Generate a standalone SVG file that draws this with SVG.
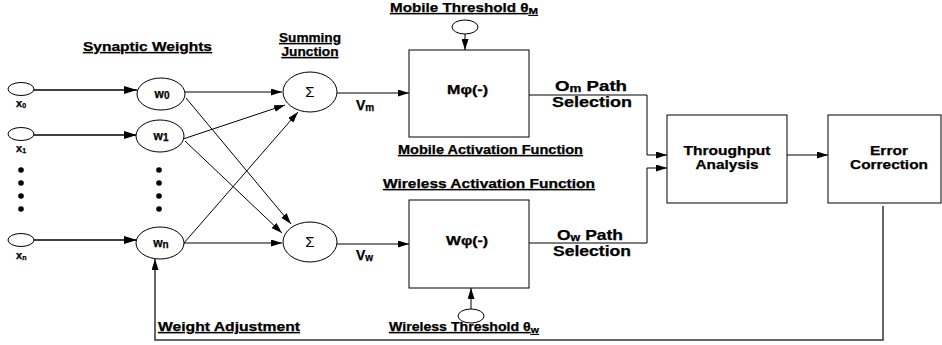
<svg xmlns="http://www.w3.org/2000/svg" width="942" height="345" viewBox="0 0 942 345">
<defs>
<style>
.n{fill:#fff;stroke:#000;stroke-width:1}
.c{fill:none;stroke:#000;stroke-width:1}
.ci{fill:none;stroke:#000;stroke-width:1.6}
.t{font-family:"Liberation Sans",Arial,sans-serif;font-weight:bold;fill:#000;stroke:#000;stroke-width:0.25}
.u{text-decoration:underline}
.s{font-family:"Liberation Sans",Arial,sans-serif;font-size:15px;fill:#000}
</style>
<marker id="ah" markerWidth="11" markerHeight="7" refX="11" refY="3.5" orient="auto" markerUnits="userSpaceOnUse"><path d="M0,0 L11,3.5 L0,7 z" fill="#000"/></marker>
<marker id="ahb" markerWidth="13" markerHeight="8" refX="13" refY="4" orient="auto" markerUnits="userSpaceOnUse"><path d="M0,0 L13,4 L0,8 z" fill="#000"/></marker>
</defs>
<rect width="942" height="345" fill="#fff"/>

<g id="connectors">
<line class="ci" x1="34" y1="90" x2="137" y2="90" marker-end="url(#ahb)"/>
<line class="ci" x1="34" y1="135" x2="137" y2="135" marker-end="url(#ahb)"/>
<line class="ci" x1="34" y1="240" x2="137" y2="240" marker-end="url(#ahb)"/>
<line class="c" x1="185" y1="92" x2="282" y2="92" marker-end="url(#ah)"/>
<line class="c" x1="186" y1="98" x2="291" y2="224" marker-end="url(#ah)"/>
<line class="c" x1="183" y1="139" x2="285" y2="105" marker-end="url(#ah)"/>
<line class="c" x1="185" y1="141" x2="282" y2="233" marker-end="url(#ah)"/>
<line class="c" x1="184" y1="243" x2="298" y2="112" marker-end="url(#ah)"/>
<line class="c" x1="184" y1="243" x2="282" y2="243" marker-end="url(#ah)"/>
<line class="c" x1="337" y1="93" x2="409" y2="93" marker-end="url(#ah)"/>
<line class="c" x1="337" y1="244" x2="409" y2="244" marker-end="url(#ah)"/>
<line class="c" x1="465" y1="34" x2="465" y2="50" marker-end="url(#ah)"/>
<line class="c" x1="471" y1="309" x2="471" y2="288" marker-end="url(#ah)"/>
<polyline class="c" points="529,95 647,95 647,155 667,155" marker-end="url(#ah)"/>
<polyline class="c" points="529,243 647,243 647,168 667,168" marker-end="url(#ah)"/>
<line class="c" x1="787" y1="155" x2="828" y2="155" marker-end="url(#ah)"/>
<polyline points="883,206 883,340 155,340 155,259" fill="none" stroke="#333" stroke-width="1.5" marker-end="url(#ah)"/>
</g>

<g id="x0"><ellipse class="n" cx="21" cy="89" rx="13" ry="6.5"/><text class="t" x="16" y="107" font-size="11">x<tspan font-size="7" dy="1">0</tspan></text></g>
<g id="x1"><ellipse class="n" cx="21" cy="134" rx="13" ry="6.5"/><text class="t" x="16" y="152" font-size="11">x<tspan font-size="7" dy="1">1</tspan></text></g>
<g id="xn"><ellipse class="n" cx="21" cy="240" rx="13" ry="6.5"/><text class="t" x="16" y="259" font-size="11">x<tspan font-size="7" dy="1">n</tspan></text></g>

<g id="dots" fill="#000">
<circle cx="21" cy="170" r="2.8"/><circle cx="21" cy="183" r="2.8"/><circle cx="21" cy="196" r="2.8"/><circle cx="21" cy="209" r="2.8"/>
<circle cx="159" cy="170" r="2.8"/><circle cx="159" cy="183" r="2.8"/><circle cx="159" cy="196" r="2.8"/><circle cx="159" cy="209" r="2.8"/>
</g>

<g id="w0"><ellipse class="n" cx="161" cy="94" rx="24" ry="16"/><text class="t" x="162" y="98" font-size="12" text-anchor="middle">w<tspan font-size="10" dy="1">0</tspan></text></g>
<g id="w1"><ellipse class="n" cx="160" cy="136" rx="24" ry="16"/><text class="t" x="161" y="140" font-size="12" text-anchor="middle">w<tspan font-size="10" dy="1">1</tspan></text></g>
<g id="wn"><ellipse class="n" cx="160" cy="243" rx="24" ry="16"/><text class="t" x="161" y="247" font-size="12" text-anchor="middle">w<tspan font-size="10" dy="1">n</tspan></text></g>

<g id="sum_m"><ellipse class="n" cx="310" cy="92" rx="27" ry="20"/><text class="s" x="310" y="97" text-anchor="middle">Σ</text></g>
<g id="sum_w"><ellipse class="n" cx="310" cy="242" rx="27" ry="20"/><text class="s" x="310" y="247" text-anchor="middle">Σ</text></g>

<g id="mobile_threshold"><ellipse class="n" cx="465" cy="27" rx="13" ry="7"/></g>
<g id="wireless_threshold"><ellipse class="n" cx="471" cy="316" rx="13" ry="7"/></g>

<g id="mobile_act"><rect class="n" x="409" y="50" width="120" height="87"/><text class="t" x="447" y="94" font-size="12" textLength="41" lengthAdjust="spacingAndGlyphs">Mφ(-)</text></g>
<g id="wireless_act"><rect class="n" x="409" y="200" width="120" height="88"/><text class="t" x="446" y="245" font-size="12" textLength="42" lengthAdjust="spacingAndGlyphs">Wφ(-)</text></g>

<g id="throughput"><rect class="n" x="667" y="115" width="120" height="88"/>
<text class="t" x="727" y="155" font-size="12" text-anchor="middle" textLength="87" lengthAdjust="spacingAndGlyphs">Throughput</text>
<text class="t" x="727" y="169" font-size="12" text-anchor="middle" textLength="63" lengthAdjust="spacingAndGlyphs">Analysis</text></g>
<g id="error"><rect class="n" x="828" y="115" width="113" height="88"/>
<text class="t" x="889" y="155" font-size="12" text-anchor="middle" textLength="38" lengthAdjust="spacingAndGlyphs">Error</text>
<text class="t" x="889" y="169" font-size="12" text-anchor="middle" textLength="78" lengthAdjust="spacingAndGlyphs">Correction</text></g>

<g id="labels">
<text class="t u" x="83" y="51" font-size="12" textLength="129" lengthAdjust="spacingAndGlyphs">Synaptic Weights</text>
<text class="t u" x="310" y="42" font-size="12" text-anchor="middle" textLength="62" lengthAdjust="spacingAndGlyphs">Summing</text>
<text class="t u" x="310" y="56" font-size="12" text-anchor="middle" textLength="57" lengthAdjust="spacingAndGlyphs">Junction</text>
<text class="t u" x="390" y="12" font-size="12" textLength="148" lengthAdjust="spacingAndGlyphs">Mobile Threshold θ<tspan font-size="9" dy="2">M</tspan></text>
<text class="t u" x="398" y="154" font-size="12" textLength="185" lengthAdjust="spacingAndGlyphs">Mobile Activation Function</text>
<text class="t u" x="383" y="188" font-size="12" textLength="212" lengthAdjust="spacingAndGlyphs">Wireless Activation Function</text>
<text class="t u" x="389" y="331" font-size="12" textLength="150" lengthAdjust="spacingAndGlyphs">Wireless Threshold θ<tspan font-size="9" dy="2">w</tspan></text>
<text class="t u" x="158" y="331" font-size="12" textLength="142" lengthAdjust="spacingAndGlyphs">Weight Adjustment</text>
<text class="t" x="356" y="110" font-size="14">V<tspan font-size="10" dy="1">m</tspan></text>
<text class="t" x="356" y="260" font-size="14">V<tspan font-size="10" dy="1">w</tspan></text>
<text class="t" x="555" y="91" font-size="14" textLength="72" lengthAdjust="spacingAndGlyphs">O<tspan font-size="10" dy="1">m</tspan><tspan dy="-1"> Path</tspan></text>
<text class="t" x="552" y="107" font-size="14" textLength="80" lengthAdjust="spacingAndGlyphs">Selection</text>
<text class="t" x="557" y="240" font-size="14" textLength="66" lengthAdjust="spacingAndGlyphs">O<tspan font-size="10" dy="1">w</tspan><tspan dy="-1"> Path</tspan></text>
<text class="t" x="553" y="256" font-size="14" textLength="78" lengthAdjust="spacingAndGlyphs">Selection</text>
</g>
</svg>
